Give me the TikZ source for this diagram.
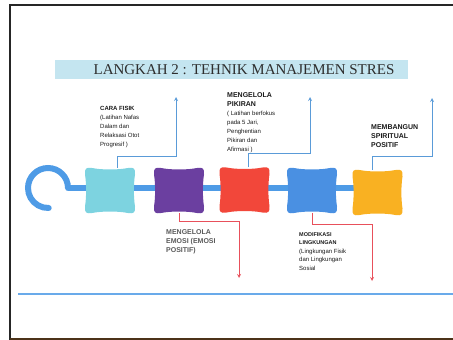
\documentclass[tikz,border=0pt]{standalone}
\usepackage{fontspec}
\setmainfont{Liberation Serif}
\setsansfont{Liberation Sans}
\usepackage{tikz}
\usetikzlibrary{arrows}

\definecolor{chainblue}{HTML}{4E9BE6}
\definecolor{lineblue}{HTML}{5A9BD8}
\definecolor{linered}{HTML}{E8505B}
\definecolor{titlebg}{HTML}{C4E5F0}
\definecolor{titletext}{HTML}{2E2E2E}
\definecolor{fisikcol}{HTML}{7DD3E0}
\definecolor{emosicol}{HTML}{6B3FA0}
\definecolor{pikirancol}{HTML}{F2473A}
\definecolor{lingkungancol}{HTML}{4A90E2}
\definecolor{spiritualcol}{HTML}{F9B122}

\tikzset{
  chainbar/.style={line width=6pt, draw=chainblue},
  upline/.style={draw=lineblue, line width=0.8pt, ->, >=stealth},
  downline/.style={draw=linered, line width=0.8pt, ->, >=stealth},
  steptext/.style={anchor=north west, inner sep=0pt, align=left, text=black!90,
    font=\sffamily\fontsize{6}{9}\selectfont},
  beadnode/.style={minimum width=50pt, minimum height=45pt, inner sep=0pt},
  bead/.pic={
    \fill[pic actions] (-18,-22.5) .. controls (-8,-20.5) and (8,-20.5) .. (18,-22.5)
      .. controls (24,-23.5) and (25.5,-22) .. (25,-16)
      .. controls (23.5,-6) and (23.5,6) .. (25,16)
      .. controls (25.5,22) and (24,23.5) .. (18,22.5)
      .. controls (8,20.5) and (-8,20.5) .. (-18,22.5)
      .. controls (-24,23.5) and (-25.5,22) .. (-25,16)
      .. controls (-23.5,6) and (-23.5,-6) .. (-25,-16)
      .. controls (-25.5,-22) and (-24,-23.5) .. (-18,-22.5) -- cycle;
  }
}

\begin{document}
\begin{tikzpicture}[x=1pt, y=-1pt]
\useasboundingbox (0,0) rectangle (453,340);

% frame
\draw[line width=1.5pt, black!85] (10,340) -- (10,5) -- (453,5);
\draw[line width=1.5pt, brown!40!black] (10,339) -- (453,339);
\draw[line width=1.5pt, chainblue!85] (18,294) -- (453,294);

% title
\fill[titlebg] (55,60) rectangle (408,79);
\node[font=\fontsize{15}{18}\selectfont, text=titletext] (title) at (244,70)
  {LANGKAH 2 : TEHNIK MANAJEMEN STRES};

% chain and hook
\coordinate (hook) at (68,188);
\draw[chainbar, line cap=round] (hook) arc[start angle=0, end angle=-272, radius=20];
\draw[chainbar] (hook) -- (377,188);

% beads
\foreach \name/\x/\y/\col in {fisik/110/190.5/fisikcol, emosi/179/190.5/emosicol,
    pikiran/244.5/190/pikirancol, lingkungan/312/190.5/lingkungancol,
    spiritual/377.5/192.5/spiritualcol} {
  \node[beadnode] (\name) at (\x,\y) {};
  \pic[fill=\col] at (\name) {bead};
}

% arrow ends
\coordinate (fisik tip) at (176,97);
\coordinate (pikiran tip) at (310,97);
\coordinate (spiritual tip) at (432,98);
\coordinate (emosi tip) at (239,278);
\coordinate (lingkungan tip) at (372,281);

\draw[upline] ([xshift=7pt]fisik.north) -- ++(0,-11) -| (fisik tip);
\draw[upline] ([xshift=3.5pt]pikiran.north) -- ++(0,-13.5) -| (pikiran tip);
\draw[upline] ([xshift=-5.5pt]spiritual.north) -- ++(0,-13) -| (spiritual tip);
\draw[downline] (emosi.south) -- ++(0,8) -| (emosi tip);
\draw[downline] (lingkungan.south) -- ++(0,11) -| (lingkungan tip);

% texts
\node[steptext] (fisik text) at (100,106.5)
  {{\bfseries\fontsize{6}{9}\selectfont CARA FISIK}\\(Latihan Nafas\\Dalam dan\\Relaksasi Otot\\Progresif )};
\node[steptext] (pikiran text) at (227,92)
  {{\bfseries\fontsize{7}{9}\selectfont MENGELOLA}\\{\bfseries\fontsize{7}{9}\selectfont PIKIRAN}\\( Latihan berfokus\\pada 5 Jari,\\Penghentian\\Pikiran dan\\Afirmasi )};
\node[steptext, font=\sffamily\bfseries\fontsize{7}{9}\selectfont] (spiritual text) at (371,124.5)
  {MEMBANGUN\\SPIRITUAL\\POSITIF};
\node[steptext, text=black!65, font=\sffamily\bfseries\fontsize{7}{9.2}\selectfont] (emosi text) at (166,229.5)
  {MENGELOLA\\EMOSI (EMOSI\\POSITIF)};
\node[steptext, font=\sffamily\fontsize{6}{8.6}\selectfont] (lingkungan text) at (299,232)
  {{\bfseries\fontsize{5.5}{8.6}\selectfont MODIFIKASI}\\{\bfseries\fontsize{5.5}{8.6}\selectfont LINGKUNGAN}\\(Lingkungan Fisik\\dan Lingkungan\\Sosial};
\end{tikzpicture}
\end{document}
